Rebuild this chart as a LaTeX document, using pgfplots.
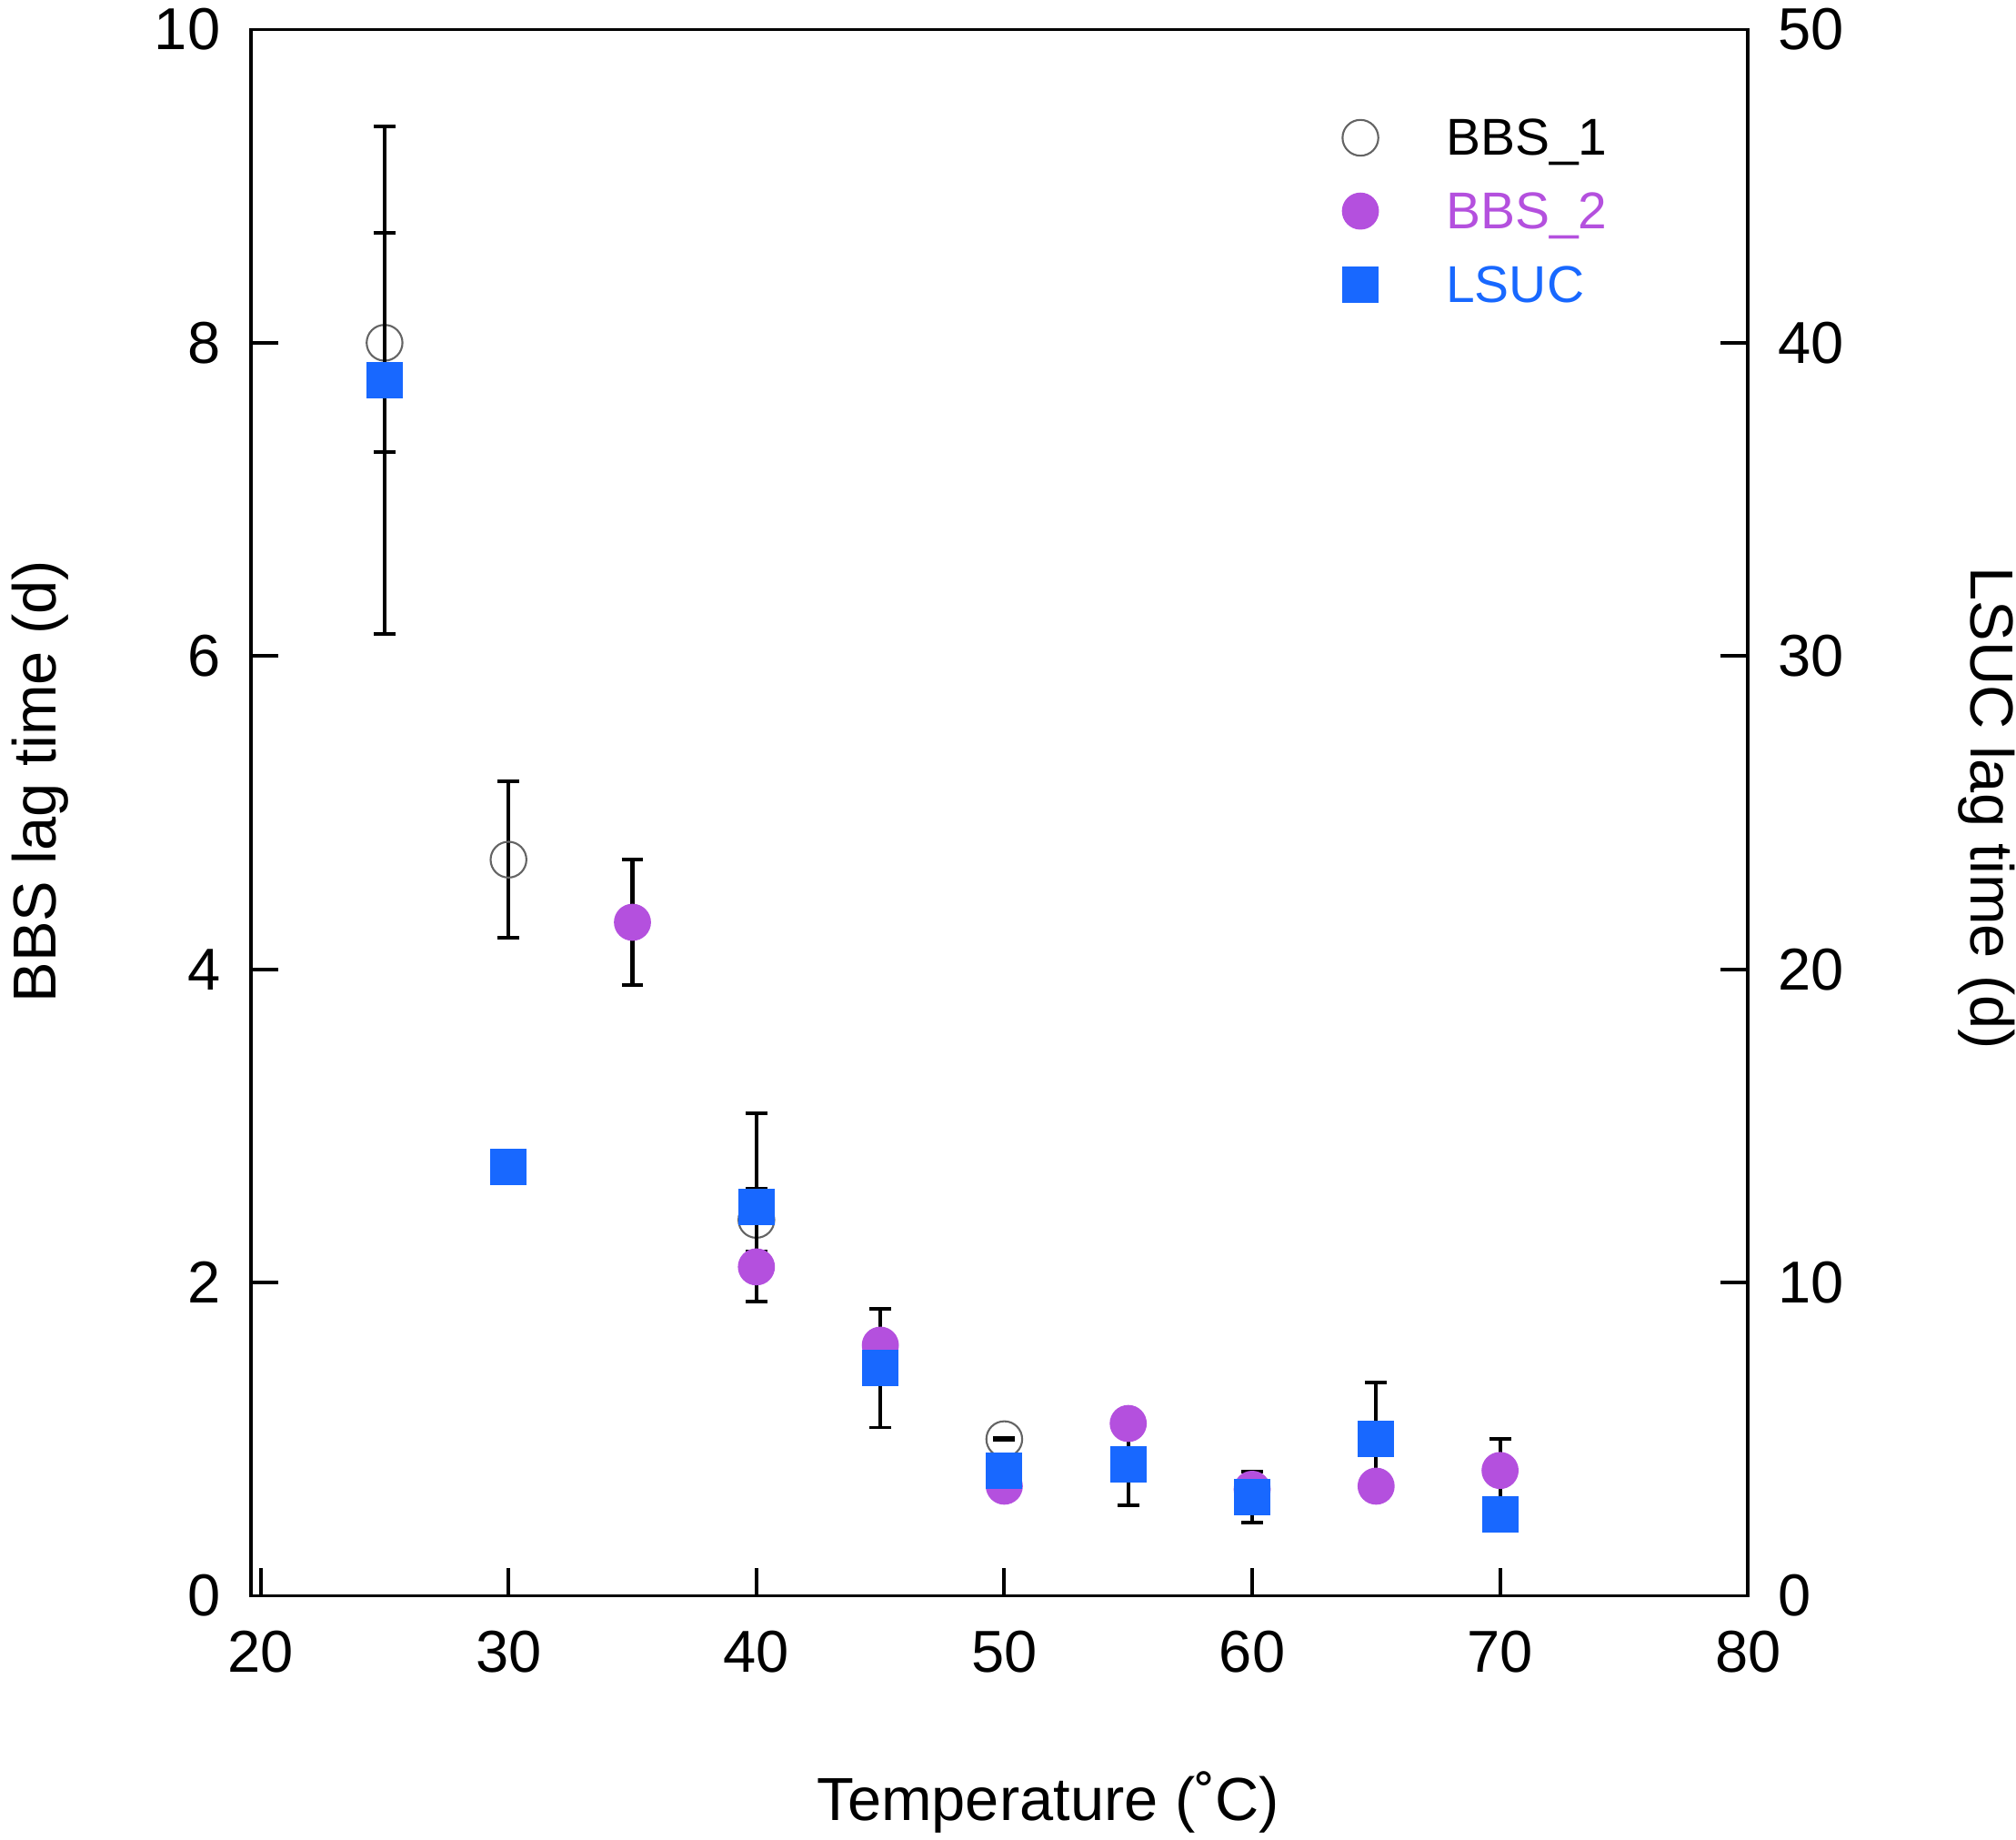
\documentclass[border=0pt]{standalone}
\usepackage{pgfplots}
\pgfplotsset{compat=1.18}
\usepackage{fontspec}
\setmainfont{Liberation Sans}
\definecolor{bbspurple}{RGB}{180,80,222}
\definecolor{lsucblue}{RGB}{24,104,255}
\definecolor{ringgray}{RGB}{100,100,100}
\newcommand{\fs}{\fontsize{18.5}{22}\selectfont}
\newcommand{\fl}{\fontsize{19}{23}\selectfont}
\newcommand{\fleg}{\fontsize{16.2}{19}\selectfont}

\pgfplotstableread{
x y e
25 8.0 0.7
30 4.7 0.5
40 2.4 0.2
50 1.0 0.006
}\bbsone
\pgfplotstableread{
x y e
35 4.3 0.4
70 0.8 0.2
}\bbstwoerr
\pgfplotstableread{
x y
40 2.1
45 1.6
50 0.7
55 1.1
60 0.68
65 0.7
}\bbstwo
\pgfplotstableread{
x y e
25 38.8 8.1
40 12.4 3.0
45 7.27 1.9
55 4.2 1.3
60 3.15 0.82
65 5.0 1.8
}\lsucerr
\pgfplotstableread{
x y
30 13.7
50 4.0
70 2.6
}\lsuc

\begin{document}
\begin{tikzpicture}
\pgfplotsset{
 common/.style={
  scale only axis, width=16.465cm, height=17.22cm,
  xmin=19.6, xmax=80,
  at={(0,0)}, anchor=south west,
  tick align=inside, major tick length=0.3cm,
  every tick/.style={black, line width=1.1pt},
  axis line style={line width=1.1pt},
  tick label style={font=\fs},
  label style={font=\fl},
  /pgf/number format/assume math mode=true,
 },
 errs/.style={
  error bars/y dir=both, error bars/y explicit,
  error bars/error bar style={black, line width=1.2pt},
  error bars/error mark options={black, rotate=90, mark size=3.4pt, line width=1.1pt},
 },
 bbsonestyle/.style={only marks, mark=o, mark size=5.6pt, ringgray, mark options={draw=ringgray, line width=0.6pt}},
 bbstwostyle/.style={only marks, mark=*, mark size=5.6pt, bbspurple, mark options={draw=bbspurple, fill=bbspurple}},
 lsucstyle/.style={only marks, mark=square*, mark size=5.5pt, lsucblue, mark options={draw=lsucblue, fill=lsucblue}},
}
% left scale: frame, BBS error bars, BBS_1 marks
\begin{axis}[common,
 ymin=0, ymax=10, ytick={0,2,...,10}, xtick={20,30,...,80},
 xtick pos=bottom, ytick pos=left,
 xticklabel style={yshift=-0.265cm},
 yticklabel style={xshift=-0.21cm},
 xlabel={Temperature (˚C)}, ylabel={BBS lag time (d)},
 xlabel style={at={(axis description cs:0.5327,-0.1436)}, anchor=base},
 ylabel style={at={(axis description cs:-0.130,0.520)}, anchor=base},
]
\addplot[bbsonestyle, errs] table[x=x, y=y, y error=e]{\bbsone};
\addplot[only marks, mark=none, errs] table[x=x, y=y, y error=e]{\bbstwoerr};
\end{axis}
% right scale: LSUC error bars only
\begin{axis}[common, hide axis, ymin=0, ymax=50]
\addplot[only marks, mark=none, errs] table[x=x, y=y, y error=e]{\lsucerr};
\end{axis}
% left scale: BBS_2 marks
\begin{axis}[common, hide axis, ymin=0, ymax=10]
\addplot[bbstwostyle] table[x=x, y=y]{\bbstwoerr};
\addplot[bbstwostyle] table[x=x, y=y]{\bbstwo};
\end{axis}
% right scale: LSUC marks, right axis, legend
\begin{axis}[common,
 ymin=0, ymax=50, ytick={0,10,...,50},
 axis x line=none, axis y line*=right, ytick pos=right,
 yticklabel style={xshift=0.205cm},
 ylabel={LSUC lag time (d)},
 ylabel style={at={(axis description cs:1.149,0.5027)}, anchor=base, rotate=-180},
 legend style={at={(axis description cs:0.7221,0.9461)}, anchor=north west,
   draw=none, fill=none, inner sep=0pt, row sep=0.236cm, font=\fleg,
   nodes={inner xsep=0.215cm, inner ysep=0pt, text height=0.45cm, text depth=0.12cm}},
 legend cell align=left,
 legend image code/.code={\draw[#1] plot coordinates {(0.3cm,0.03cm)}; \path (0cm,0.03cm) (1.02cm,0.03cm);},
]
\addlegendimage{bbsonestyle}
\addlegendentry{BBS\_1}
\addlegendimage{bbstwostyle}
\addlegendentry{\textcolor{bbspurple}{BBS\_2}}
\addplot[lsucstyle] table[x=x, y=y]{\lsucerr};
\addlegendentry{\textcolor{lsucblue}{LSUC}}
\addplot[lsucstyle, forget plot] table[x=x, y=y]{\lsuc};
\end{axis}
\pgfresetboundingbox
\useasboundingbox (-2.757cm,-2.684cm) rectangle (19.413cm,17.545cm);
\end{tikzpicture}
\end{document}
